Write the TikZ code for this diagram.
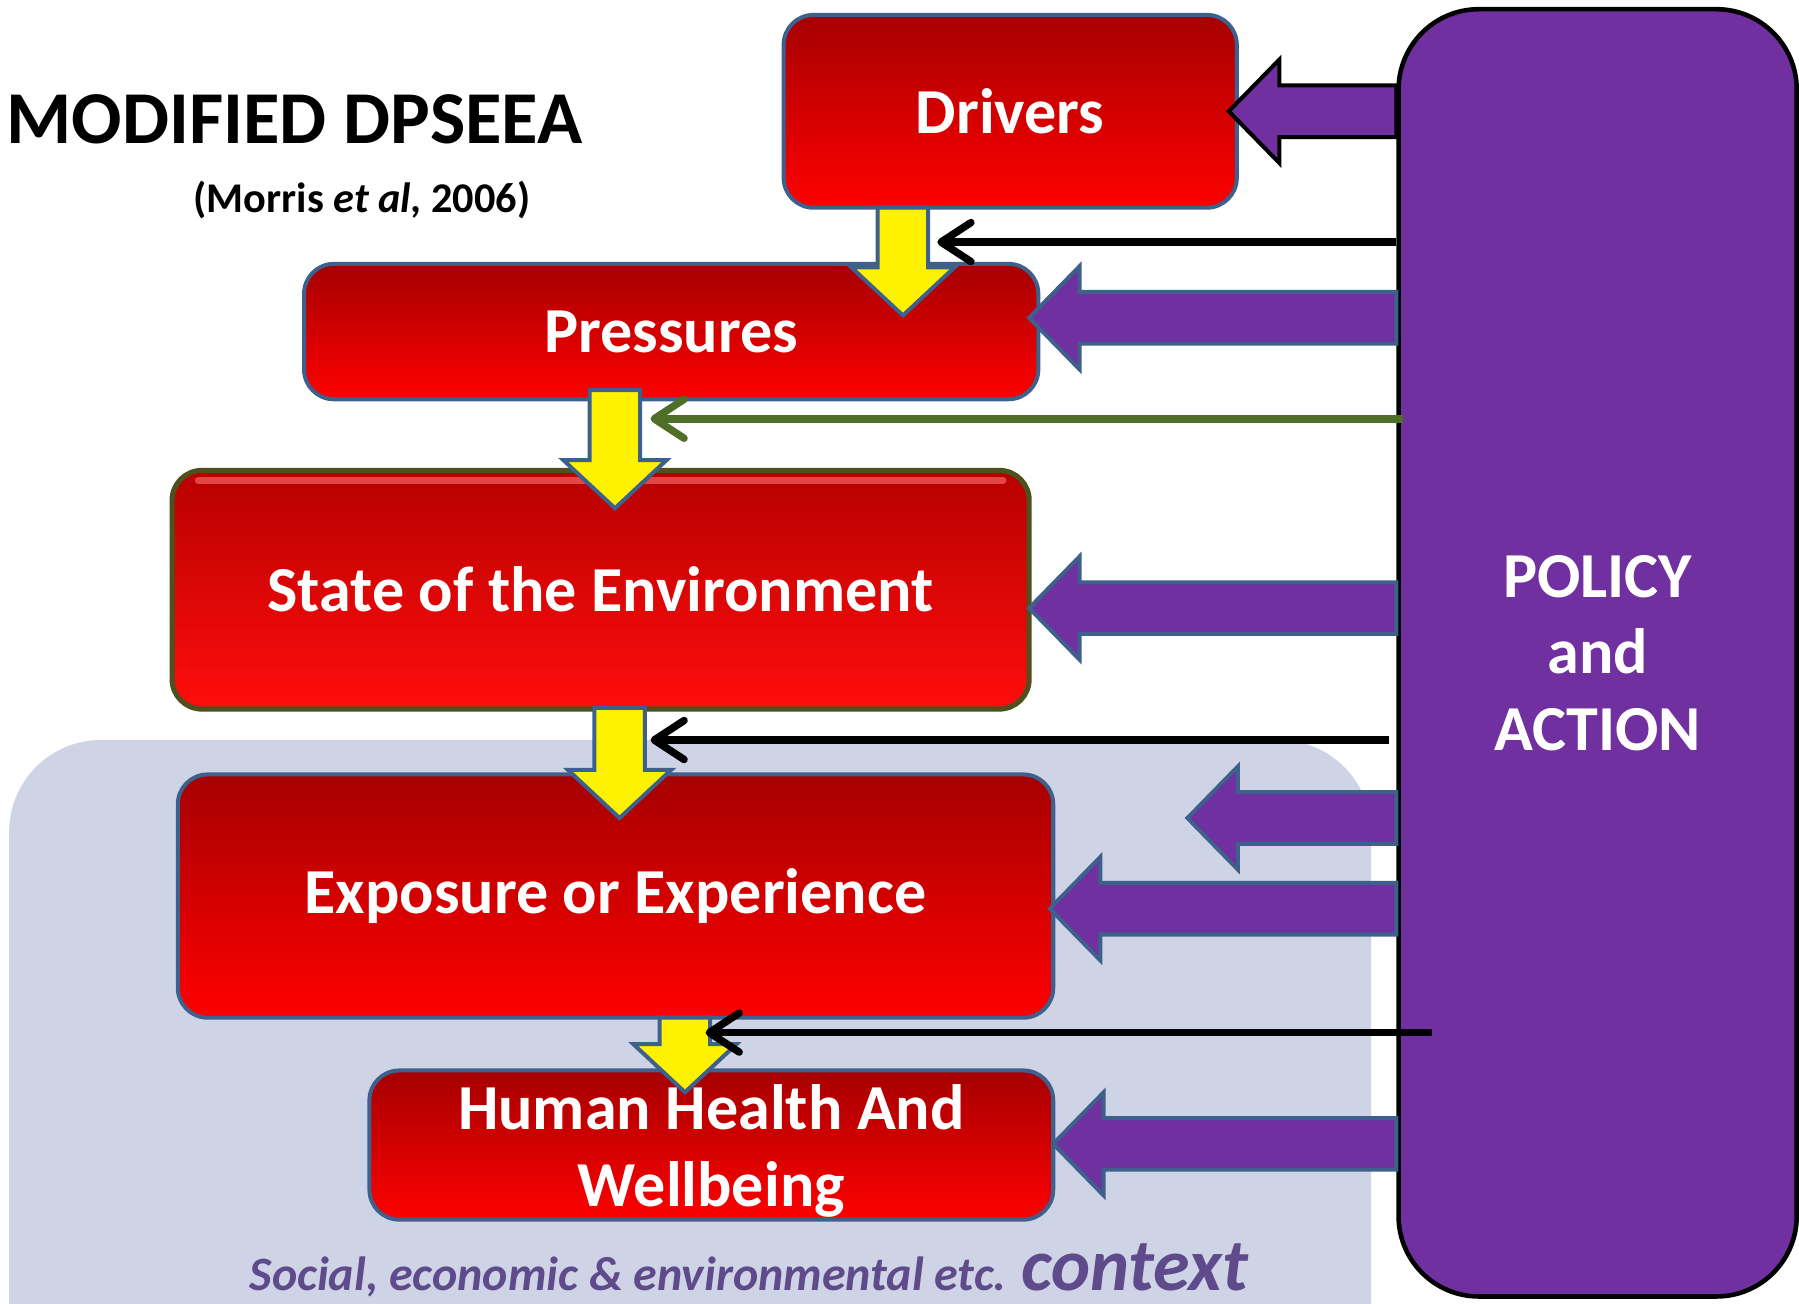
\documentclass[tikz,border=0pt]{standalone}
\usepackage{fontspec}
\setmainfont{Carlito}
\usetikzlibrary{arrows.meta,calc}

\definecolor{boxred}{RGB}{255,0,0}
\definecolor{darkred}{RGB}{165,0,0}
\definecolor{edgeblue}{RGB}{61,96,140}
\definecolor{policypurple}{RGB}{112,48,160}
\definecolor{contextgrey}{RGB}{206,211,230}
\definecolor{contexttext}{RGB}{95,75,139}
\definecolor{linkgreen}{RGB}{79,111,40}
\definecolor{stateedge}{RGB}{78,80,30}

\tikzset{
  stage/.style={draw=edgeblue, line width=0.35mm, rounded corners=2.6mm,
    top color=darkred, bottom color=boxred, text=white, inner sep=0pt,
    align=center, font=\fontsize{15.9}{19}\selectfont\bfseries},
  flow/.style={draw=edgeblue, line width=0.35mm, fill=yellow},
  push/.style={draw=edgeblue, line width=0.35mm, fill=policypurple},
  link/.style={line width=0.65mm,
    -{Straight Barb[length=2.6mm,width=3.4mm,line width=0.65mm,round]}},
}

% yellow arrow going down from #1 to the tip #2
\newcommand{\flowarrow}[2]{%
  \draw[flow] let \p1=(#1), \p2=(#2) in
    (\x1-2.2mm,\y1) -- (\x1-2.2mm,\y2+4.2mm) -- (\x1-4.5mm,\y2+4.2mm) -- (\x1,\y2)
    -- (\x1+4.5mm,\y2+4.2mm) -- (\x1+2.2mm,\y2+4.2mm) -- (\x1+2.2mm,\y1) -- cycle;}

% purple arrow from the policy box (#2) pointing left to the tip #3
\newcommand{\pusharrow}[3][]{%
  \draw[push,#1] let \p1=(#2), \p2=(#3) in
    (\p2) -- (\x2+4.4mm,\y2+4.5mm) -- (\x2+4.4mm,\y2+2.25mm) -- (\x1,\y2+2.25mm)
    -- (\x1,\y2-2.25mm) -- (\x2+4.4mm,\y2-2.25mm) -- (\x2+4.4mm,\y2-4.5mm) -- cycle;}

\begin{document}
\begin{tikzpicture}[x=0.1mm, y=-0.1mm]
  \useasboundingbox (0,0) rectangle (1568,1136);
  \clip (0,0) rectangle (1568,1136);

  % context background
  \fill[contextgrey, rounded corners=8mm] (8,645) rectangle (1195,1250);
  \node[anchor=base west, inner sep=0pt, text=contexttext, font=\fontsize{11.9}{14}\selectfont\bfseries\itshape]
    (ctx) at (217,1125) {Social, economic \& environmental etc. {\fontsize{18.4}{22}\selectfont context}};

  % title
  \node[anchor=base west, inner sep=0pt, font=\fontsize{18.5}{22}\selectfont\bfseries] (title) at (5,125) {MODIFIED DPSEEA};
  \node[anchor=base west, inner sep=0pt, font=\fontsize{10.5}{13}\selectfont\bfseries] (cite) at (168,185) {(Morris \textit{et al}, 2006)};

  % stages
  \node[stage, minimum width=39.5mm, minimum height=16.8mm] (drivers) at (880.5,97) {Drivers};
  \node[stage, minimum width=64mm, minimum height=11.8mm] (pressures) at (585,289) {Pressures};
  \node[stage, draw=stateedge, line width=0.45mm, top color=red!72!black, bottom color=red!95!white,
    minimum width=74.7mm, minimum height=20.8mm] (state) at (523.5,514) {State of the Environment};
  \draw[red!55!white, opacity=0.6, line width=0.6mm, line cap=round]
    ([xshift=2.5mm,yshift=-1.1mm]state.north west) -- ([xshift=-2.5mm,yshift=-1.1mm]state.north east);
  \node[stage, minimum width=76.3mm, minimum height=21.2mm] (exposure) at (536.5,781) {Exposure or Experience};
  \node[stage, minimum width=59.6mm, minimum height=13mm] (health) at (620,998) {};
  \node[text=white, align=center, font=\fontsize{15.9}{19}\selectfont\bfseries] (healthtext)
    at ([yshift=-0.5mm]health.center) {Human Health And\\Wellbeing};

  % policy
  \node[draw=black, line width=0.4mm, fill=policypurple, rounded corners=7mm, text=white,
    align=center, font=\fontsize{15.9}{19}\selectfont\bfseries,
    minimum width=34.7mm, minimum height=112.2mm] (policy) at (1392.5,569) {POLICY\\and\\ACTION};

  % tips
  \coordinate (pd) at (1071,97);
  \coordinate (pp) at (897,277);
  \coordinate (ps) at (897,530);
  \coordinate (pc) at (1035,713);
  \coordinate (pe) at (915,792);
  \coordinate (ph) at (918,997);

  \pusharrow[draw=black]{policy.west}{pd}
  \pusharrow{policy.west}{pp}
  \pusharrow{policy.west}{ps}
  \pusharrow{policy.west}{pc}
  \pusharrow{policy.west}{pe}
  \pusharrow{policy.west}{ph}

  % flow between stages
  \coordinate (f1) at (787,181);  \coordinate (f1t) at (787,275);
  \coordinate (f2) at (536,340);  \coordinate (f2t) at (536,443);
  \coordinate (f3) at (540,617);  \coordinate (f3t) at (540,713);
  \coordinate (f4) at (597,887);  \coordinate (f4t) at (597,952);
  \flowarrow{f1}{f1t}
  \flowarrow{f2}{f2t}
  \flowarrow{f3}{f3t}
  \flowarrow{f4}{f4t}

  % thin links
  \coordinate (l1) at (817,211);
  \coordinate (l2) at (567,365);
  \coordinate (l3) at (567,645);
  \coordinate (l4) at (615,900);
  \draw[link] (policy.west |- l1) -- (l1);
  \draw[link, draw=linkgreen] ($(policy.west |- l2)+(6,0)$) -- (l2);
  \draw[link] ($(policy.west |- l3)+(-6,0)$) -- (l3);
  \draw[link] ($(policy.west |- l4)+(31,0)$) -- (l4);
\end{tikzpicture}
\end{document}
